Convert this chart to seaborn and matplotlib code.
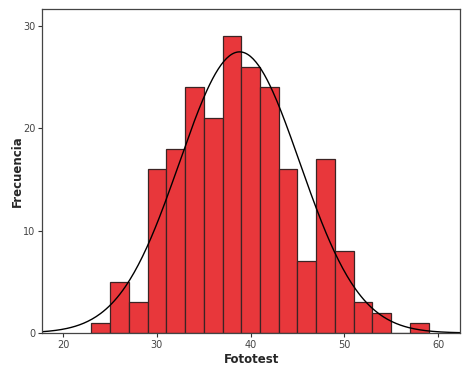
import numpy as np
import matplotlib
matplotlib.use("Agg")
import matplotlib.pyplot as plt
import seaborn as sns
import pandas as pd

# histogram data (bin width 2)
bin_edges = [23, 25, 27, 29, 31, 33, 35, 37, 39, 41, 43, 45, 47, 49, 51, 53, 55, 57, 59]
counts = [1, 5, 3, 16, 18, 24, 21, 29, 26, 24, 16, 7, 17, 8, 3, 2, 0, 1]
x_ticks = [20, 30, 40, 50, 60]
y_ticks = [0, 10, 20, 30]

edges = np.array(bin_edges, dtype=float)
mids = (edges[:-1] + edges[1:]) / 2
cnt = np.array(counts, dtype=float)
df = pd.DataFrame({"Fototest": mids, "n": cnt})

# fitted normal curve (SPSS style), scaled to counts
n = cnt.sum()
mean = (mids * cnt).sum() / n
sd = np.sqrt(((mids - mean) ** 2 * cnt).sum() / (n - 1))
width = 2.0
xs = np.linspace(17.7, 62.4, 300)
ys = n * width / (sd * np.sqrt(2 * np.pi)) * np.exp(-0.5 * ((xs - mean) / sd) ** 2)
curve = pd.DataFrame({"x": xs, "y": ys})

sns.set_style("white")
fig = plt.figure(figsize=(4.68, 3.75), dpi=100)
ax = fig.add_axes([0.09, 0.112, 0.893, 0.864])

sns.histplot(data=df, x="Fototest", weights="n", bins=bin_edges, ax=ax,
             color="#e8373b", alpha=1, edgecolor="#3b2424", linewidth=0.9)
sns.lineplot(data=curve, x="x", y="y", ax=ax, color="black", linewidth=1.0)

ax.set_xlim(17.75, 62.35)
ax.set_ylim(0, 31.65)
ax.set_xticks(x_ticks)
ax.set_yticks(y_ticks)
ax.tick_params(axis="both", direction="out", length=3, width=0.8,
               labelsize=7, colors="#333333", labelcolor="#444444", pad=2)
ax.tick_params(axis="x", bottom=True)
ax.tick_params(axis="y", left=True)
for s in ax.spines.values():
    s.set_color("#444444")
    s.set_linewidth(0.9)

ax.set_xlabel("Fototest", fontsize=8.5, fontweight="bold", labelpad=2)
ax.set_ylabel("Frecuencia", fontsize=8.5, fontweight="bold", labelpad=-1)

fig.savefig("out.png", dpi=100)
